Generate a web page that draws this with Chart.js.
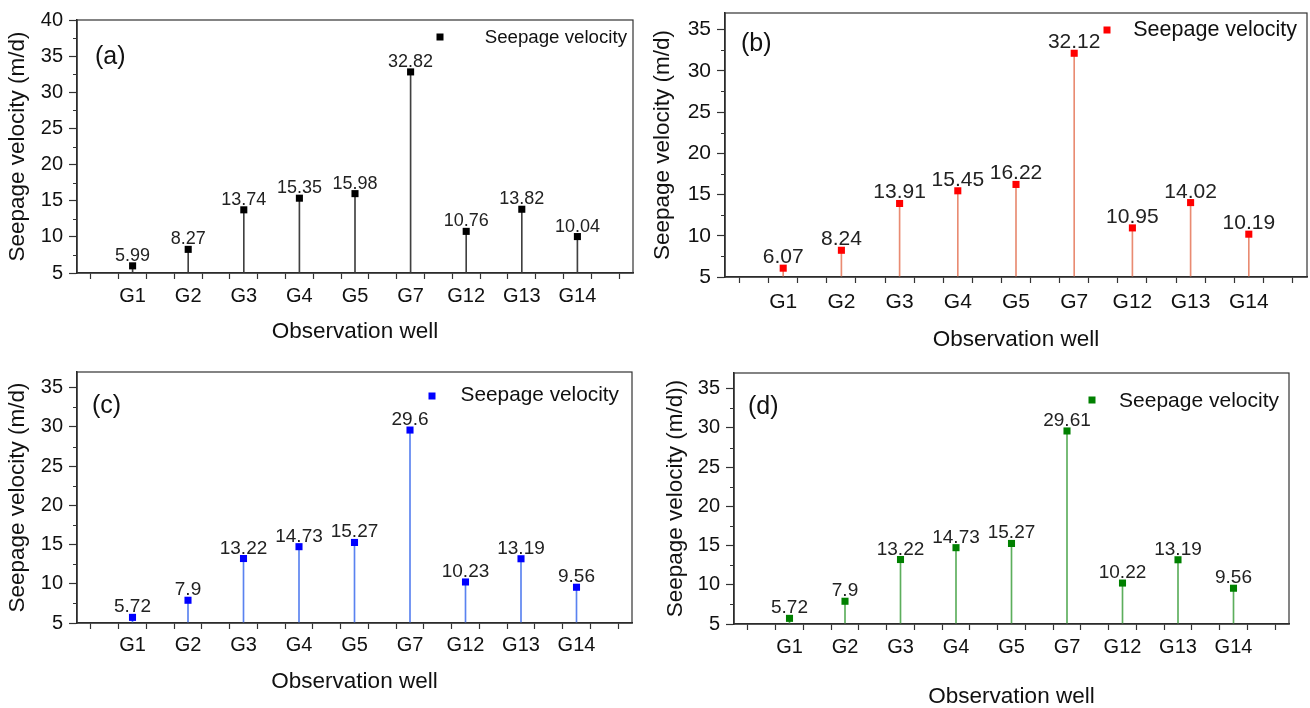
<!DOCTYPE html>
<html>
<head>
<meta charset="utf-8">
<script src="https://cdn.jsdelivr.net/npm/chart.js@4.4.1/dist/chart.umd.min.js"></script>
<style>
html, body { margin: 0; padding: 0; background: #fff; }
#wrap { position: relative; width: 1310px; height: 708px; overflow: hidden; }
canvas { position: absolute; }
</style>
</head>
<body>
<div id="wrap">
  <canvas id="chartA" width="655" height="350" style="left:0px;top:0px"></canvas>
  <canvas id="chartB" width="665" height="360" style="left:645px;top:0px"></canvas>
  <canvas id="chartC" width="655" height="353" style="left:0px;top:355px"></canvas>
  <canvas id="chartD" width="655" height="348" style="left:655px;top:360px"></canvas>
</div>
<script>
// observation wells (x axis)
var wells = ["G1", "G2", "G3", "G4", "G5", "G7", "G12", "G13", "G14"];

// seepage velocity (m/d), one array per panel
var velA = [5.99, 8.27, 13.74, 15.35, 15.98, 32.82, 10.76, 13.82, 10.04];
var velB = [6.07, 8.24, 13.91, 15.45, 16.22, 32.12, 10.95, 14.02, 10.19];
var velC = [5.72, 7.9, 13.22, 14.73, 15.27, 29.6, 10.23, 13.19, 9.56];
var velD = [5.72, 7.9, 13.22, 14.73, 15.27, 29.61, 10.22, 13.19, 9.56];

var FONT = '"Liberation Sans", Arial, sans-serif';

// ---------- PANELS ----------
var panels = [
  { canvas: "chartA", vals: velA, tag: "(a)", ymax: 40, pt: "#000000", stem: "#404040",
    yTitle: "Seepage velocity (m/d)",
    left: 0, top: 0, w: 655, h: 350, L: 77, T: 20, R: 633, B: 273,
    tagX: 95, tagY: 57, legMX: 440, legMY: 37, legTX: 627, legTY: 38,
    legSize: 18.7, tickSize: 20, labelSize: 18, tickPad: 5, xTitlePad: 7, yTitlePad: 7 },
  { canvas: "chartB", vals: velB, tag: "(b)", ymax: 37, pt: "#ff0000", stem: "#e98b72",
    yTitle: "Seepage velocity (m/d)",
    left: 645, top: 0, w: 665, h: 360, L: 725, T: 13, R: 1307, B: 277,
    tagX: 741, tagY: 44, legMX: 1107, legMY: 30, legTX: 1297, legTY: 30,
    legSize: 21.5, tickSize: 21, labelSize: 21, tickPad: 7, xTitlePad: 9, yTitlePad: 7 },
  { canvas: "chartC", vals: velC, tag: "(c)", ymax: 37, pt: "#0000ff", stem: "#5a82f0",
    yTitle: "Seepage velocity (m/d)",
    left: 0, top: 355, w: 655, h: 353, L: 77, T: 372, R: 632, B: 623,
    tagX: 92, tagY: 406, legMX: 432, legMY: 396, legTX: 619, legTY: 395,
    legSize: 20.8, tickSize: 20, labelSize: 19, tickPad: 4, xTitlePad: 15, yTitlePad: 7 },
  { canvas: "chartD", vals: velD, tag: "(d)", ymax: 37, pt: "#008000", stem: "#5cae5c",
    yTitle: "Seepage velocity (m/d))",
    left: 655, top: 360, w: 655, h: 348, L: 734, T: 373, R: 1289, B: 624,
    tagX: 748, tagY: 407, legMX: 1092, legMY: 400, legTX: 1279, legTY: 401,
    legSize: 21, tickSize: 20, labelSize: 19, tickPad: 5, xTitlePad: 0, yTitlePad: 10 }
];

// frame, minor ticks, value labels, legend and panel letter
function deco(p) {
  return {
    id: "deco",
    afterDatasetsDraw: function(chart) {
      var ctx = chart.ctx;
      var meta = chart.getDatasetMeta(0);
      ctx.save();
      ctx.fillStyle = "#222";
      ctx.font = p.labelSize + "px " + FONT;
      ctx.textAlign = "center";
      ctx.textBaseline = "alphabetic";
      meta.data.forEach(function(el, i) {
        ctx.fillText(String(p.vals[i]), el.x, el.y - 5);
      });
      ctx.restore();
    },
    afterDraw: function(chart) {
      var ctx = chart.ctx, a = chart.chartArea, ys = chart.scales.y;
      ctx.save();
      // box
      ctx.strokeStyle = "#333";
      ctx.lineWidth = 1.2;
      ctx.strokeRect(a.left, a.top, a.right - a.left, a.bottom - a.top);
      // minor y ticks
      ctx.lineWidth = 1;
      for (var v = 7.5; v < p.ymax; v += 5) {
        var y = Math.round(ys.getPixelForValue(v)) + 0.5;
        ctx.beginPath();
        ctx.moveTo(a.left - 4, y);
        ctx.lineTo(a.left, y);
        ctx.stroke();
      }
      // legend
      var mx = p.legMX - p.left, my = p.legMY - p.top;
      ctx.fillStyle = p.pt;
      ctx.fillRect(mx - 3.5, my - 3.5, 7, 7);
      ctx.fillStyle = "#111";
      ctx.font = p.legSize + "px " + FONT;
      ctx.textAlign = "right";
      ctx.textBaseline = "middle";
      ctx.fillText("Seepage velocity", p.legTX - p.left, p.legTY - p.top);
      // panel letter
      ctx.font = "25px " + FONT;
      ctx.textAlign = "left";
      ctx.fillText(p.tag, p.tagX - p.left, p.tagY - p.top);
      ctx.restore();
    }
  };
}

panels.forEach(function(p) {
  var pts = p.vals.map(function(v, i) { return { x: i + 1, y: v }; });
  var yW = p.L - p.left;
  var xH = p.top + p.h - p.B;

  new Chart(document.getElementById(p.canvas), {
    type: "bar",
    data: {
      datasets: [{
        type: "line",
        data: pts,
        showLine: false,
        pointStyle: "rect",
        pointRadius: 5,
        pointHoverRadius: 5,
        pointBorderWidth: 0,
        pointBackgroundColor: p.pt,
        borderColor: p.pt,
        backgroundColor: p.pt,
        order: 0
      }, {
        type: "bar",
        data: pts,
        backgroundColor: p.stem,
        borderWidth: 0,
        barThickness: 1,
        base: 5,
        order: 1
      }]
    },
    options: {
      responsive: false,
      animation: false,
      devicePixelRatio: 1,
      events: [],
      layout: { autoPadding: false, padding: { top: p.T - p.top, right: p.left + p.w - p.R, left: 0, bottom: 0 } },
      plugins: { legend: { display: false }, tooltip: { enabled: false } },
      scales: {
        x: {
          type: "linear",
          min: 0,
          max: 10,
          offset: false,
          afterFit: function(s) { s.height = xH; s.paddingLeft = 0; s.paddingRight = 0; },
          grid: { drawOnChartArea: false, drawTicks: true, tickLength: 6, tickColor: "#333", tickWidth: 1.2 },
          border: { display: true, color: "#222", width: 1.5 },
          ticks: {
            stepSize: 0.5,
            autoSkip: false,
            maxRotation: 0,
            padding: p.tickPad,
            color: "#111",
            font: { family: FONT, size: p.tickSize },
            callback: function(v) {
              var r = Math.round(v);
              if (Math.abs(v - r) < 1e-6 && r >= 1 && r <= wells.length) return wells[r - 1];
              return "";
            }
          },
          title: {
            display: true,
            text: "Observation well",
            color: "#111",
            font: { family: FONT, size: 22.5, lineHeight: 1 },
            padding: { top: 0, bottom: p.xTitlePad }
          }
        },
        y: {
          min: 5,
          max: p.ymax,
          afterFit: function(s) { s.width = yW; s.paddingTop = 0; s.paddingBottom = 0; },
          grid: { drawOnChartArea: false, drawTicks: true, tickLength: 8, tickColor: "#333", tickWidth: 1.2 },
          border: { display: true, color: "#222", width: 1.5 },
          ticks: {
            stepSize: 5,
            includeBounds: false,
            padding: 6,
            color: "#111",
            font: { family: FONT, size: p.tickSize }
          },
          title: {
            display: true,
            text: p.yTitle,
            color: "#111",
            font: { family: FONT, size: 22.5, lineHeight: 1 },
            padding: { top: p.yTitlePad, bottom: 0 }
          }
        }
      }
    },
    plugins: [deco(p)]
  });
});
</script>
</body>
</html>
